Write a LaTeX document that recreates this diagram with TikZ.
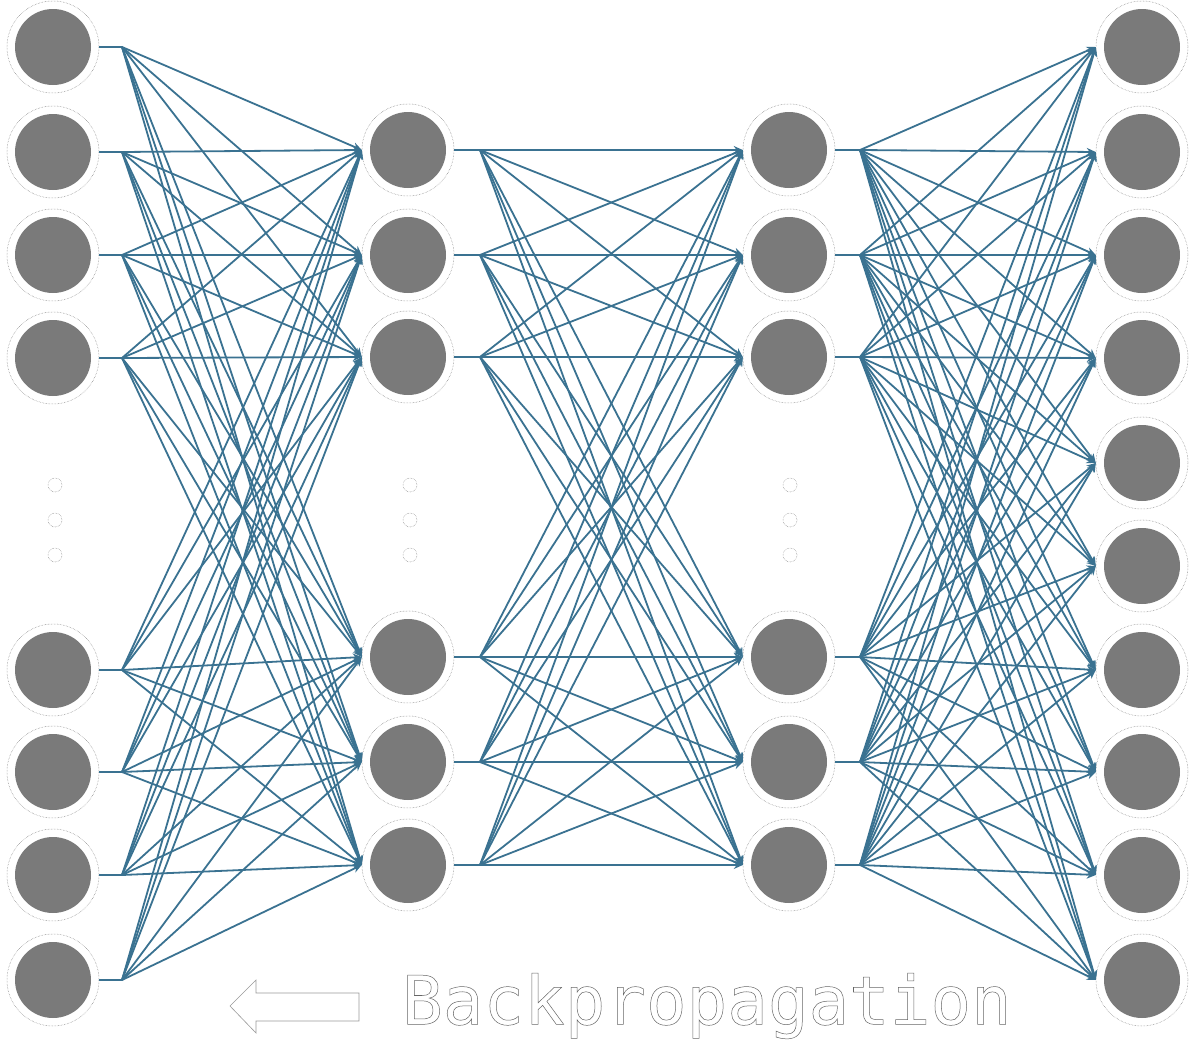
\documentclass[tikz,border=0pt]{standalone}
\usepackage{fontspec}
\newfontfamily\monof{DejaVu Sans Mono}
\usetikzlibrary{arrows.meta}
\definecolor{edge}{HTML}{3A7291}
\definecolor{nodegray}{HTML}{7A7A7A}
\tikzset{
  neuron/.style={circle,minimum size=92pt,inner sep=0pt,draw=gray,line width=0.5pt,densely dotted,
    path picture={\fill[nodegray] (path picture bounding box.center) circle (38pt);}},
  conn/.style={draw=edge,line width=1.8pt,-{Stealth[length=9pt,width=8pt]}},
  stub/.style={draw=edge,line width=1.8pt},
  vdot/.style={circle,minimum size=14pt,inner sep=0pt,draw=gray,line width=0.5pt,densely dotted}
}
\begin{document}
\begin{tikzpicture}[x=1pt,y=-1pt]
\useasboundingbox (0,0) rectangle (1195,1047);
% layers
\foreach \y [count=\i] in {47,152,255,358,670,772,875,980}{
  \node[neuron] (a\i) at (53,\y) {};
  \coordinate (oa\i) at (122,\y);
}
\foreach \y [count=\i] in {150,255,357,657,762,865}{
  \node[neuron] (b\i) at (408,\y) {};
  \coordinate (ob\i) at (480,\y);
  \node[neuron] (c\i) at (789,\y) {};
  \coordinate (oc\i) at (860,\y);
}
\foreach \y [count=\i] in {47,152,255,358,463,566,670,772,875,980}{
  \node[neuron] (d\i) at (1142,\y) {};
}
\foreach \x/\n in {55/p,410/q,790/r}{
  \foreach \y [count=\k] in {485,520,555}{\node[vdot] (\n\k) at (\x,\y) {};}
}
% stubs and connections
\foreach \i in {1,...,8}{
  \draw[stub] (a\i.east) -- (oa\i);
  \foreach \j in {1,...,6}{\draw[conn] (oa\i) -- (b\j.west);}
}
\foreach \i in {1,...,6}{
  \draw[stub] (b\i.east) -- (ob\i);
  \draw[stub] (c\i.east) -- (oc\i);
  \foreach \j in {1,...,6}{\draw[conn] (ob\i) -- (c\j.west);}
  \foreach \j in {1,...,10}{\draw[conn] (oc\i) -- (d\j.west);}
}
% backprop arrow
\draw[gray!80,line width=0.6pt,fill=white] (230,1006) -- (256,980) -- (256,993) -- (359,993) -- (359,1021) -- (256,1021) -- (256,1033) -- cycle;
\node[anchor=west,inner sep=0pt,font=\monof\fontsize{67.5}{67.5}\selectfont] (bp) at (402,1006)
  {\special{pdf:code 0.4 G 0.5 w 1 Tr}Backpropagation\special{pdf:code 0 Tr 0 G}};
\end{tikzpicture}
\end{document}
